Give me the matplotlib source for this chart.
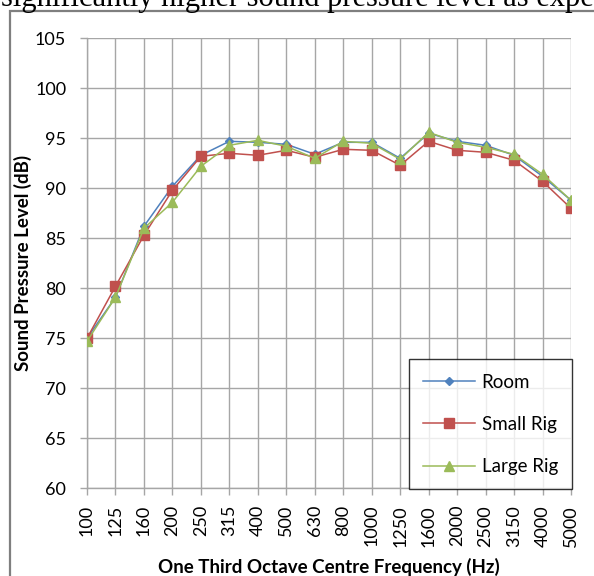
import matplotlib
matplotlib.use("Agg")
import matplotlib.pyplot as plt
from matplotlib.patches import Rectangle

freqs = ["100", "125", "160", "200", "250", "315", "400", "500", "630", "800",
         "1000", "1250", "1600", "2000", "2500", "3150", "4000", "5000"]
room = [75.0, 79.1, 86.2, 90.2, 93.3, 94.7, 94.6, 94.4, 93.4, 94.6,
        94.6, 93.0, 95.5, 94.7, 94.3, 93.3, 91.2, 88.8]
small_rig = [75.0, 80.2, 85.3, 89.8, 93.2, 93.5, 93.3, 93.8, 93.1, 93.9,
             93.8, 92.3, 94.7, 93.8, 93.6, 92.8, 90.7, 88.0]
large_rig = [74.7, 79.1, 86.0, 88.6, 92.2, 94.3, 94.8, 94.2, 93.0, 94.7,
             94.5, 92.9, 95.6, 94.6, 94.1, 93.4, 91.4, 88.8]
yticks = list(range(60, 106, 5))

plt.rcParams['font.family'] = ['Lato', 'DejaVu Sans']

W, H = 594, 576
fig = plt.figure(figsize=(W / 100, H / 100), dpi=100)

# outer chart frame
fig.patches.append(Rectangle((9.5 / W, -0.01), 1.0, 1 - 10.5 / H + 0.01,
                             transform=fig.transFigure, fill=False,
                             edgecolor='#7F7F7F', linewidth=1.6))
# clipped document text above the chart (cut off in the source image too)
fig.text(1 / W, 1 - 6 / H, "significantly higher sound pressure level as expected",
         family=['Liberation Serif', 'DejaVu Serif'], fontsize=22,
         va='baseline', ha='left', color='black')

ax = fig.add_axes([87 / W, 1 - 488.3 / H, (571 - 87) / W, (488.3 - 38.3) / H])
x = list(range(len(freqs)))

ax.plot(x, room, color='#4F81BD', marker='D', markersize=4.5, linewidth=1.1,
        label='Room', zorder=3)
ax.plot(x, small_rig, color='#C0504D', marker='s', markersize=6.5, linewidth=1.1,
        label='Small Rig', zorder=4)
ax.plot(x, large_rig, color='#9BBB59', marker='^', markersize=7, linewidth=1.1,
        label='Large Rig', zorder=5)

ax.set_xlim(0, len(freqs) - 1)
ax.set_ylim(60, 105)
ax.set_xticks(x)
ax.set_xticklabels(freqs, rotation=90, fontsize=13)
ax.set_yticks(yticks)
ax.set_yticklabels([str(v) for v in yticks], fontsize=13)
ax.grid(True, color='#A6A6A6', linewidth=1.0)
ax.set_axisbelow(True)
for s in ['top', 'right']:
    ax.spines[s].set_visible(False)
for s in ['left', 'bottom']:
    ax.spines[s].set_color('#A6A6A6')
    ax.spines[s].set_linewidth(1.0)
ax.tick_params(axis='both', colors='#A6A6A6', labelcolor='black', length=5, width=1.0)
ax.tick_params(axis='x', pad=7)
ax.tick_params(axis='y', pad=10)

ax.set_xlabel('One Third Octave Centre Frequency (Hz)', fontsize=13.5,
              fontweight='bold', labelpad=8)
ax.set_ylabel('Sound Pressure Level (dB)', fontsize=13.5, fontweight='bold',
              labelpad=2)

leg = ax.legend(loc='lower right', bbox_to_anchor=(1.002, -0.002), fontsize=13.5,
                frameon=True, fancybox=False, edgecolor='black', borderpad=0.75,
                labelspacing=1.35, handlelength=2.8, handletextpad=0.35,
                borderaxespad=0)
leg.get_frame().set_linewidth(1.0)
leg.set_zorder(10)

fig.savefig('out.png', dpi=100, facecolor='white')
